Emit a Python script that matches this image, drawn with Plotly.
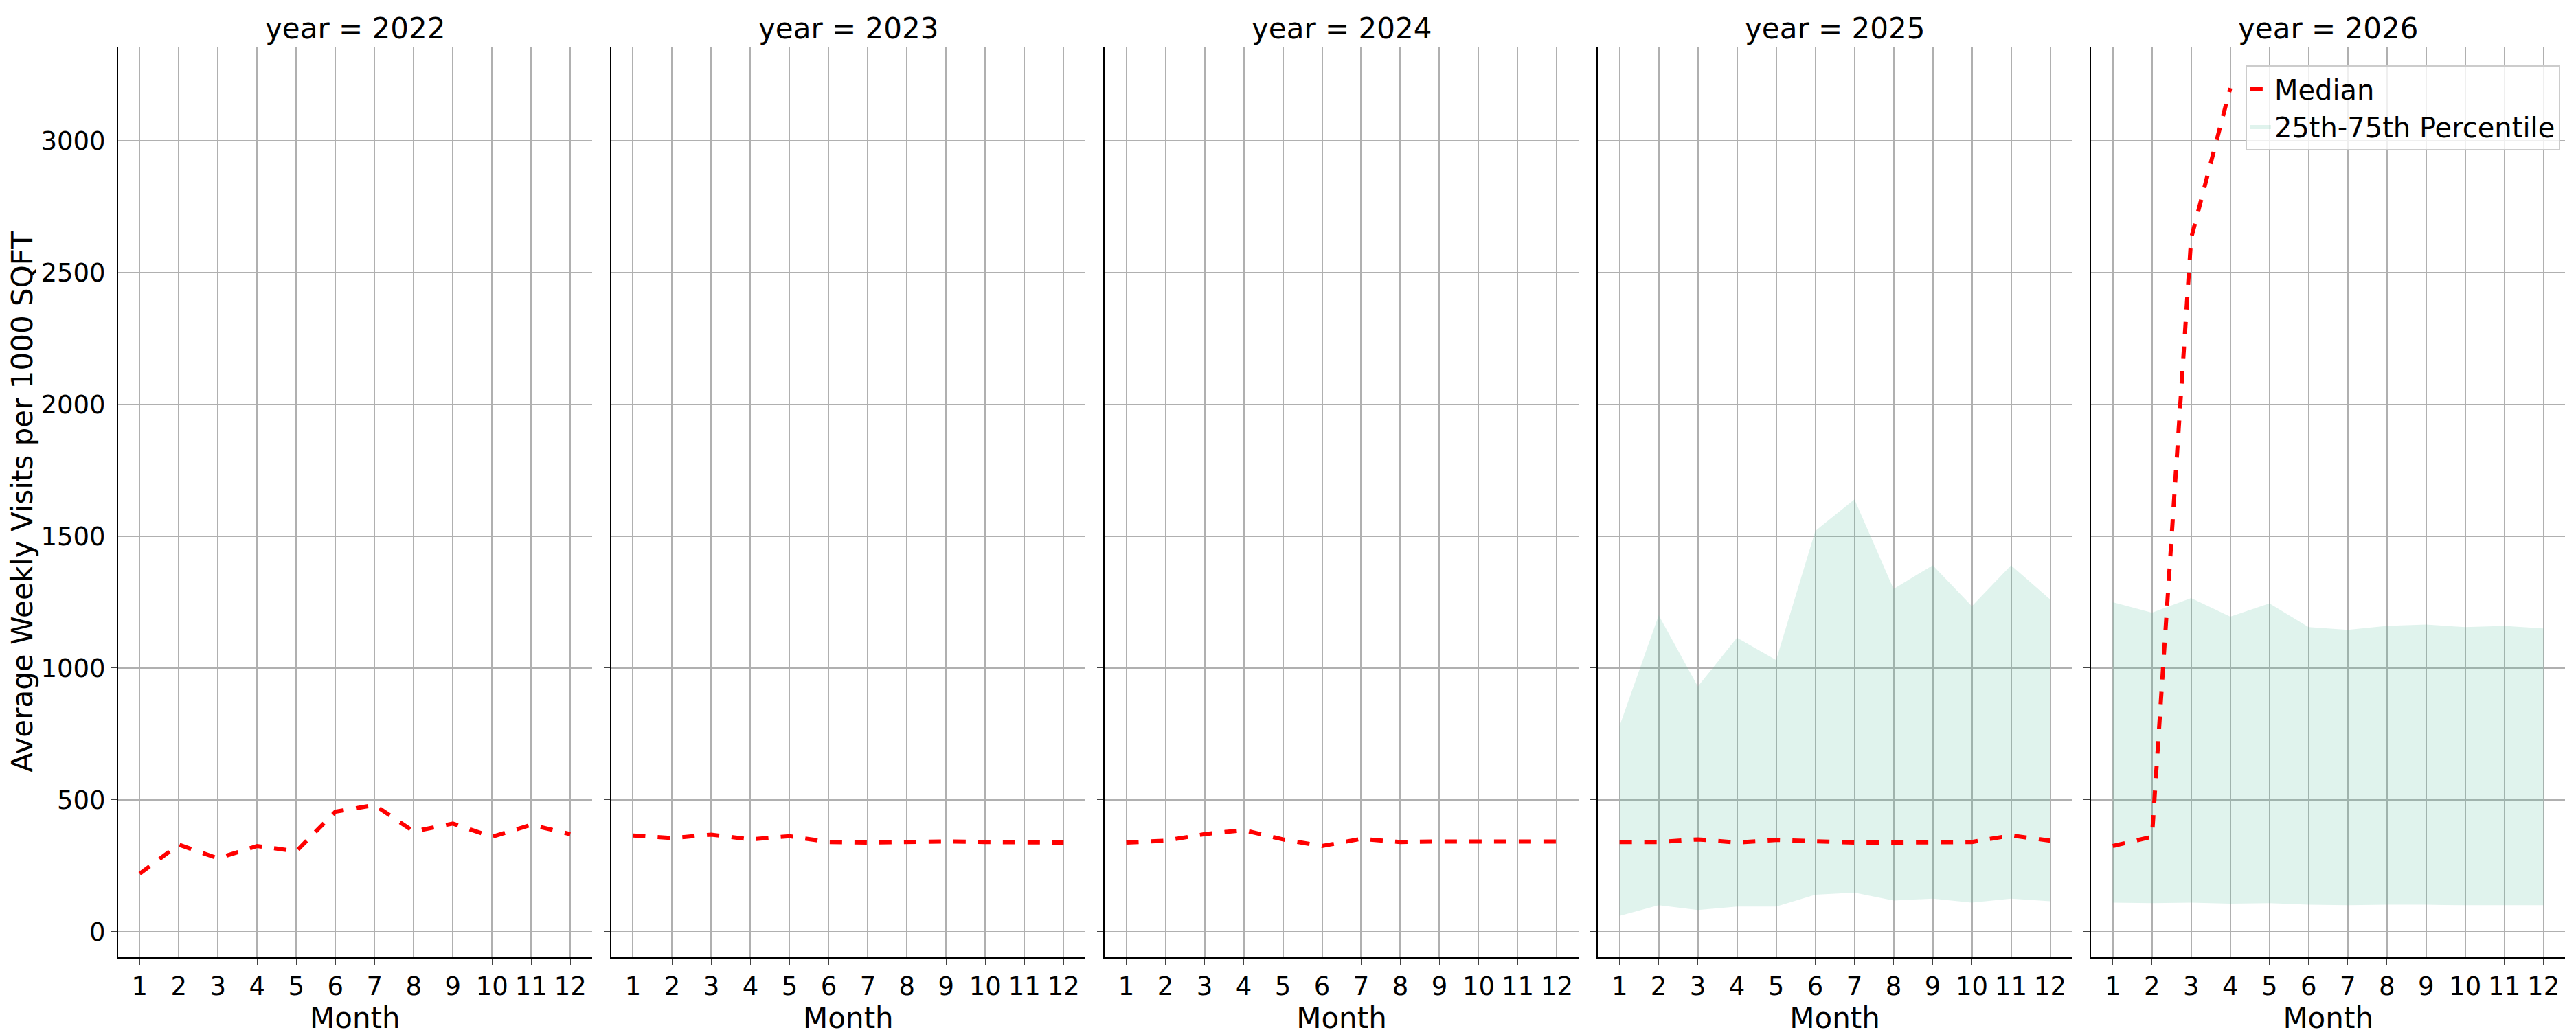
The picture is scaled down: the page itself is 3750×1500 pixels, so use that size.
import plotly.graph_objects as go
from plotly.subplots import make_subplots

months = list(range(1, 13))
years = [2022, 2023, 2024, 2025, 2026]

median_2022 = [220, 330, 278, 325, 305, 455, 480, 380, 410, 360, 405, 370]
median_2023 = [365, 355, 368, 350, 362, 340, 338, 340, 342, 340, 338, 338]
median_2024 = [338, 345, 370, 385, 350, 325, 352, 340, 342, 342, 340, 342]
median_2025 = [340, 340, 350, 338, 348, 342, 338, 338, 338, 340, 365, 345]
median_2026 = [325, 360, 2630, 3200, None, None, None, None, None, None, None, None]

p25_2025 = [60, 100, 82, 95, 95, 140, 148, 118, 125, 110, 125, 115]
p75_2025 = [780, 1200, 930, 1115, 1030, 1520, 1640, 1300, 1390, 1235, 1390, 1260]
p25_2026 = [110, 108, 110, 106, 108, 102, 100, 102, 102, 100, 100, 100]
p75_2026 = [1250, 1210, 1265, 1195, 1245, 1155, 1145, 1160, 1165, 1155, 1160, 1150]

medians = [median_2022, median_2023, median_2024, median_2025, median_2026]
bands = {2025: (p25_2025, p75_2025), 2026: (p25_2026, p75_2026)}

FONT = "DejaVu Sans"
BAND = "rgba(102,194,165,0.2)"

fig = make_subplots(rows=1, cols=5, shared_yaxes=True, horizontal_spacing=0.008,
                    subplot_titles=[f"year = {y}" for y in years])

for i, year in enumerate(years):
    col = i + 1
    last = year == 2026
    if year in bands:
        lo, hi = bands[year]
        fig.add_trace(go.Scatter(x=months, y=lo, mode="lines", line=dict(width=0),
                                 showlegend=False, hoverinfo="skip"), row=1, col=col)
        fig.add_trace(go.Scatter(x=months, y=hi, mode="lines", line=dict(width=0),
                                 fill="tonexty", fillcolor=BAND,
                                 name="25th-75th Percentile", showlegend=last,
                                 legendrank=2000), row=1, col=col)
    fig.add_trace(go.Scatter(x=months, y=medians[i], mode="lines",
                             line=dict(color="red", width=6, dash="dash"),
                             name="Median", showlegend=last, legendrank=1),
                  row=1, col=col)

    fig.update_xaxes(row=1, col=col, range=[0.45, 12.55], tickmode="linear", dtick=1,
                     showgrid=True, gridcolor="#b0b0b0", gridwidth=1.5,
                     showline=True, linecolor="black", linewidth=2,
                     ticks="outside", ticklen=9, tickfont=dict(size=37),
                     title=dict(text="Month", font=dict(size=42), standoff=8),
                     zeroline=False)
    fig.update_yaxes(row=1, col=col, range=[-97, 3357], dtick=500,
                     showgrid=True, gridcolor="#b0b0b0", gridwidth=1.5,
                     showline=True, linecolor="black", linewidth=2,
                     ticks="outside", ticklen=9, tickfont=dict(size=37), zeroline=False)

fig.update_yaxes(row=1, col=1, title=dict(text="Average Weekly Visits per 1000 SQFT",
                                          font=dict(size=42), standoff=10))
for ann in fig.layout.annotations:
    ann.font = dict(size=42, family=FONT, color="black")

fig.update_layout(
    width=3750, height=1500,
    plot_bgcolor="white", paper_bgcolor="white",
    font=dict(family=FONT, color="black"),
    margin=dict(l=150, r=24, t=60, b=105),
    legend=dict(x=0.998, y=0.98, xanchor="right", yanchor="top",
                traceorder="normal",
                font=dict(size=40), bgcolor="rgba(255,255,255,0.8)",
                bordercolor="#cccccc", borderwidth=2),
)

fig.write_html("out.html")
